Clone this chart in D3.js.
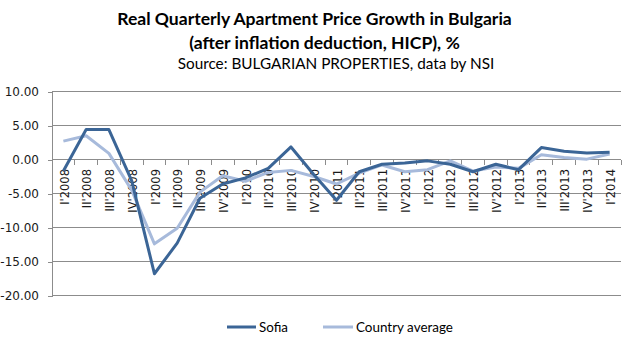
<!DOCTYPE html>
<html>
<head>
<meta charset="utf-8">
<script src="https://cdn.jsdelivr.net/npm/d3@7"></script>
<style>
  html, body { margin: 0; padding: 0; background: #fff; }
  svg { display: block; }
</style>
</head>
<body>
<svg id="chart" width="630" height="342"></svg>
<script>
const categories = ["I'2008","II'2008","III'2008","IV'2008","I'2009","II'2009","III'2009","IV'2009",
  "I'2010","II'2010","III'2010","IV'2010","I'2011","II'2011","III'2011","IV'2011",
  "I'2012","II'2012","III'2012","IV'2012","I'2013","II'2013","III'2013","IV'2013","I'2014"];
const sofia = [-1.7, 4.4, 4.4, -3.1, -16.8, -12.3, -5.7, -3.6, -2.7, -1.3, 1.85, -2.2,
  -6.0, -1.8, -0.7, -0.5, -0.2, -0.7, -1.8, -0.7, -1.5, 1.75, 1.2, 0.95, 1.05];
const countryAverage = [2.7, 3.5, 0.9, -4.5, -12.4, -10.1, -4.8, -2.4, -3.2, -1.9, -1.6, -2.5,
  -3.6, -2.0, -0.8, -1.8, -1.5, -0.2, -1.7, -1.1, -1.3, 0.7, 0.3, 0.05, 0.8];
const yTicks = [-20, -15, -10, -5, 0, 5, 10];
const seriesNames = ["Sofia", "Country average"];
const titleLines = ["Real Quarterly Apartment Price Growth in Bulgaria",
  "(after inflation deduction, HICP), %",
  "Source: BULGARIAN PROPERTIES, data by NSI"];

const svg = d3.select("#chart");
const plotL = 52, plotR = 621, plotT = 91.5, plotB = 295.5;
const colors = ["#3B6596", "#A7BADB"];

const x = d3.scaleBand().domain(categories).range([plotL, plotR]).paddingInner(0).paddingOuter(0);
const y = d3.scaleLinear().domain([-20, 10]).range([plotB, plotT]);

// gridlines
svg.append("g").selectAll("line").data(yTicks).join("line")
  .attr("x1", plotL).attr("x2", plotR)
  .attr("y1", d => y(d)).attr("y2", d => y(d))
  .attr("stroke", "#8c8c8c").attr("stroke-width", 1)
  .attr("shape-rendering", "crispEdges");

// y axis
const fmt = d3.format(".2f");
const yAxis = d3.axisLeft(y).tickValues(yTicks).tickSize(4).tickPadding(9)
  .tickFormat(d => fmt(d).replace("\u2212", "-"));
const gy = svg.append("g").attr("transform", `translate(${plotL},0)`).call(yAxis);
gy.select(".domain").attr("stroke", "#8c8c8c").attr("shape-rendering", "crispEdges");
gy.selectAll(".tick line").attr("stroke", "#8c8c8c").attr("shape-rendering", "crispEdges");
gy.selectAll(".tick text").attr("font-family", "DejaVu Sans, Verdana, sans-serif")
  .attr("font-size", 12).attr("fill", "#1a1a1a");

// x axis at zero, ticks at category boundaries
const gx = svg.append("g");
gx.append("line").attr("x1", plotL).attr("x2", plotR).attr("y1", y(0)).attr("y2", y(0))
  .attr("stroke", "#8c8c8c").attr("shape-rendering", "crispEdges");
const bounds = d3.range(categories.length + 1).map(i => plotL + i * x.step());
gx.selectAll("line.tk").data(bounds).join("line").attr("class", "tk")
  .attr("x1", d => d).attr("x2", d => d).attr("y1", y(0)).attr("y2", y(0) + 5)
  .attr("stroke", "#8c8c8c").attr("shape-rendering", "crispEdges");
gx.selectAll("text").data(categories).join("text")
  .attr("transform", d => `translate(${x(d) + x.bandwidth() / 2 + 1},${y(0) + 9.5}) rotate(-90)`)
  .attr("text-anchor", "end").attr("dy", "0.36em")
  .attr("font-family", "DejaVu Sans, Verdana, sans-serif").attr("font-size", 11.5)
  .attr("fill", "#1a1a1a").text(d => d);

// lines
const line = d3.line().x((d, i) => x(categories[i]) + x.bandwidth() / 2).y(d => y(d));
[countryAverage, sofia].forEach((s, k) => {
  svg.append("path").datum(s).attr("d", line).attr("fill", "none")
    .attr("stroke", k === 0 ? colors[1] : colors[0]).attr("stroke-width", 3)
    .attr("stroke-linejoin", "round");
});

// fit helper
function fit(sel, width) {
  const w = sel.node().getComputedTextLength();
  const fs = parseFloat(sel.attr("font-size"));
  const nf = fs * width / w;
  sel.attr("font-size", nf);
  return nf;
}

// title
const t1 = svg.append("text").attr("x", 314.5).attr("y", 25).attr("text-anchor", "middle")
  .attr("font-family", "Lato, 'Open Sans', sans-serif").attr("font-weight", "bold")
  .attr("font-size", 17).attr("fill", "#000").text(titleLines[0]);
const f1 = fit(t1, 395);
svg.append("text").attr("x", 324.5).attr("y", 49).attr("text-anchor", "middle")
  .attr("font-family", "Lato, 'Open Sans', sans-serif").attr("font-weight", "bold")
  .attr("font-size", f1).attr("fill", "#000").text(titleLines[1]);
const t3 = svg.append("text").attr("x", 336).attr("y", 69).attr("text-anchor", "middle")
  .attr("font-family", "Lato, 'Open Sans', sans-serif")
  .attr("font-size", 14).attr("fill", "#000").text(titleLines[2]);
fit(t3, 317);

// legend
const legSpecs = [{x1: 227, x2: 256, tx: 259, w: 29}, {x1: 323, x2: 353, tx: 356, w: 97}];
seriesNames.forEach((n, i) => {
  const s = legSpecs[i];
  svg.append("line").attr("x1", s.x1).attr("x2", s.x2).attr("y1", 327).attr("y2", 327)
    .attr("stroke", colors[i]).attr("stroke-width", 3);
  const el = svg.append("text").attr("x", s.tx).attr("y", 331.5)
    .attr("font-family", "Lato, 'Open Sans', sans-serif").attr("font-size", 13)
    .attr("fill", "#000").text(n);
  fit(el, s.w);
});
</script>
</body>
</html>
